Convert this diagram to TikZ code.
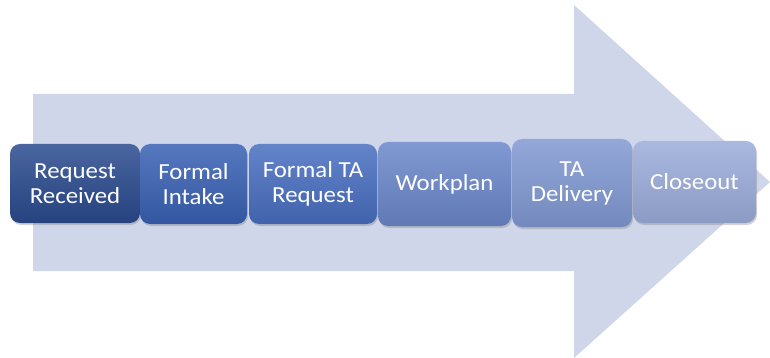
\documentclass[tikz,border=0pt]{standalone}
\usepackage{fontspec}
\setmainfont{Carlito}[FakeStretch=1.08]
\usetikzlibrary{shadows}

\definecolor{arrowfill}{HTML}{CFD6E9}
\definecolor{stageA}{HTML}{2A4A8E}
\definecolor{stageB}{HTML}{3860B3}
\definecolor{stageC}{HTML}{486EC0}
\definecolor{stageD}{HTML}{6A87CA}
\definecolor{stageE}{HTML}{8098D2}
\definecolor{stageF}{HTML}{9BACDA}

\begin{document}
\begin{tikzpicture}[x=1pt,y=-1pt]
    \tikzset{stage/.style={shape = rectangle, rounded corners = 10pt,
                text = white, align = center,
                font = \fontsize{23}{25}\selectfont,
                inner sep = 0pt,
                drop shadow = {shadow xshift = 1pt, shadow yshift = -2pt,
                               opacity = 0.35}},
             stagefill/.style={top color = #1!85!white, bottom color = #1!90!black}}
    \useasboundingbox (0,0) rectangle (770,358);
    % background arrow
    \fill[arrowfill] (33,94) -- (574,94) -- (574,5) -- (770,182)
        -- (574,358) -- (574,271) -- (33,271) -- cycle;
    % stages
    \node[stage, stagefill = stageA, minimum width = 130pt, minimum height = 79pt]
        (received) at (75,183.5) {Request\\Received};
    \node[stage, stagefill = stageB, minimum width = 107pt, minimum height = 80pt]
        (intake) at (193.5,184) {Formal\\Intake};
    \node[stage, stagefill = stageC, minimum width = 128pt, minimum height = 80pt]
        (tarequest) at (313,184) {Formal TA\\Request};
    \node[stage, stagefill = stageD, minimum width = 133pt, minimum height = 84pt]
        (workplan) at (444.5,184) {Workplan};
    \node[stage, stagefill = stageE, minimum width = 120pt, minimum height = 88pt]
        (delivery) at (572,183) {TA\\Delivery};
    \node[stage, stagefill = stageF, minimum width = 123pt, minimum height = 82pt]
        (closeout) at (694.5,182) {Closeout};
\end{tikzpicture}
\end{document}
